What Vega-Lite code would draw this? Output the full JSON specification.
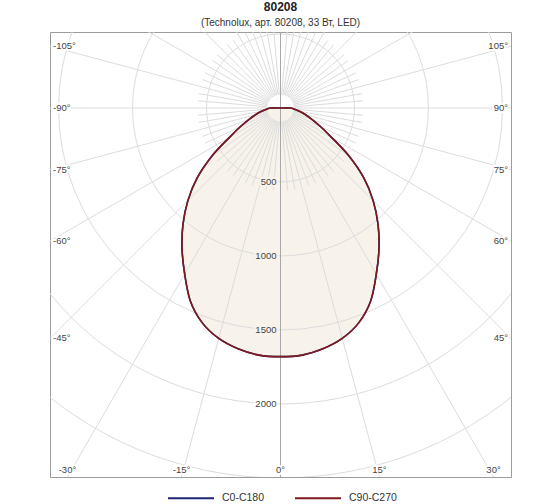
{
  "$schema": "https://vega.github.io/schema/vega-lite/v6.json",
  "width": 461,
  "height": 445,
  "autosize": "none",
  "padding": {"left": 50, "top": 32, "right": 49, "bottom": 27},
  "background": "white",
  "title": {
    "text": "80208",
    "subtitle": "(Technolux, арт. 80208, 33 Вт, LED)",
    "anchor": "middle",
    "font": "Liberation Sans",
    "fontSize": 12,
    "fontWeight": "bold",
    "color": "#222222",
    "subtitleFont": "Liberation Sans",
    "subtitleFontSize": 10,
    "subtitleColor": "#333333",
    "offset": 3,
    "subtitlePadding": 4
  },
  "datasets": {
    "curve": [
      {"plane": "C0-C180", "angle": -90, "cd": 65},
      {"plane": "C0-C180", "angle": -85, "cd": 95},
      {"plane": "C0-C180", "angle": -80, "cd": 130},
      {"plane": "C0-C180", "angle": -75, "cd": 175},
      {"plane": "C0-C180", "angle": -70, "cd": 228},
      {"plane": "C0-C180", "angle": -65, "cd": 300},
      {"plane": "C0-C180", "angle": -60, "cd": 400},
      {"plane": "C0-C180", "angle": -55, "cd": 565},
      {"plane": "C0-C180", "angle": -50, "cd": 735},
      {"plane": "C0-C180", "angle": -45, "cd": 885},
      {"plane": "C0-C180", "angle": -40, "cd": 1025},
      {"plane": "C0-C180", "angle": -35, "cd": 1160},
      {"plane": "C0-C180", "angle": -30, "cd": 1295},
      {"plane": "C0-C180", "angle": -25, "cd": 1440},
      {"plane": "C0-C180", "angle": -20, "cd": 1545},
      {"plane": "C0-C180", "angle": -15, "cd": 1612},
      {"plane": "C0-C180", "angle": -10, "cd": 1652},
      {"plane": "C0-C180", "angle": -5, "cd": 1676},
      {"plane": "C0-C180", "angle": 0, "cd": 1680},
      {"plane": "C0-C180", "angle": 5, "cd": 1676},
      {"plane": "C0-C180", "angle": 10, "cd": 1652},
      {"plane": "C0-C180", "angle": 15, "cd": 1612},
      {"plane": "C0-C180", "angle": 20, "cd": 1545},
      {"plane": "C0-C180", "angle": 25, "cd": 1440},
      {"plane": "C0-C180", "angle": 30, "cd": 1295},
      {"plane": "C0-C180", "angle": 35, "cd": 1160},
      {"plane": "C0-C180", "angle": 40, "cd": 1025},
      {"plane": "C0-C180", "angle": 45, "cd": 885},
      {"plane": "C0-C180", "angle": 50, "cd": 735},
      {"plane": "C0-C180", "angle": 55, "cd": 565},
      {"plane": "C0-C180", "angle": 60, "cd": 400},
      {"plane": "C0-C180", "angle": 65, "cd": 300},
      {"plane": "C0-C180", "angle": 70, "cd": 228},
      {"plane": "C0-C180", "angle": 75, "cd": 175},
      {"plane": "C0-C180", "angle": 80, "cd": 130},
      {"plane": "C0-C180", "angle": 85, "cd": 95},
      {"plane": "C0-C180", "angle": 90, "cd": 65},
      {"plane": "C0-C180", "angle": 180, "cd": 0},
      {"plane": "C90-C270", "angle": -90, "cd": 65},
      {"plane": "C90-C270", "angle": -85, "cd": 95},
      {"plane": "C90-C270", "angle": -80, "cd": 130},
      {"plane": "C90-C270", "angle": -75, "cd": 175},
      {"plane": "C90-C270", "angle": -70, "cd": 228},
      {"plane": "C90-C270", "angle": -65, "cd": 300},
      {"plane": "C90-C270", "angle": -60, "cd": 400},
      {"plane": "C90-C270", "angle": -55, "cd": 565},
      {"plane": "C90-C270", "angle": -50, "cd": 735},
      {"plane": "C90-C270", "angle": -45, "cd": 885},
      {"plane": "C90-C270", "angle": -40, "cd": 1025},
      {"plane": "C90-C270", "angle": -35, "cd": 1160},
      {"plane": "C90-C270", "angle": -30, "cd": 1295},
      {"plane": "C90-C270", "angle": -25, "cd": 1440},
      {"plane": "C90-C270", "angle": -20, "cd": 1545},
      {"plane": "C90-C270", "angle": -15, "cd": 1612},
      {"plane": "C90-C270", "angle": -10, "cd": 1652},
      {"plane": "C90-C270", "angle": -5, "cd": 1676},
      {"plane": "C90-C270", "angle": 0, "cd": 1680},
      {"plane": "C90-C270", "angle": 5, "cd": 1676},
      {"plane": "C90-C270", "angle": 10, "cd": 1652},
      {"plane": "C90-C270", "angle": 15, "cd": 1612},
      {"plane": "C90-C270", "angle": 20, "cd": 1545},
      {"plane": "C90-C270", "angle": 25, "cd": 1440},
      {"plane": "C90-C270", "angle": 30, "cd": 1295},
      {"plane": "C90-C270", "angle": 35, "cd": 1160},
      {"plane": "C90-C270", "angle": 40, "cd": 1025},
      {"plane": "C90-C270", "angle": 45, "cd": 885},
      {"plane": "C90-C270", "angle": 50, "cd": 735},
      {"plane": "C90-C270", "angle": 55, "cd": 565},
      {"plane": "C90-C270", "angle": 60, "cd": 400},
      {"plane": "C90-C270", "angle": 65, "cd": 300},
      {"plane": "C90-C270", "angle": 70, "cd": 228},
      {"plane": "C90-C270", "angle": 75, "cd": 175},
      {"plane": "C90-C270", "angle": 80, "cd": 130},
      {"plane": "C90-C270", "angle": 85, "cd": 95},
      {"plane": "C90-C270", "angle": 90, "cd": 65},
      {"plane": "C90-C270", "angle": 180, "cd": 0}
    ],
    "rings": [
      {"cd": 500}, {"cd": 1000}, {"cd": 1500}, {"cd": 2000}, {"cd": 2500}, {"cd": 3000}
    ],
    "ringLabels": [
      {"cd": 500}, {"cd": 1000}, {"cd": 1500}, {"cd": 2000}
    ],
    "spokes": [
      {"angle": 0, "kind": "axis"}, {"angle": 180, "kind": "axis"},
      {"angle": 15, "kind": "major"}, {"angle": 30, "kind": "major"}, {"angle": 45, "kind": "major"},
      {"angle": 60, "kind": "major"}, {"angle": 75, "kind": "major"}, {"angle": 90, "kind": "major"},
      {"angle": 105, "kind": "major"}, {"angle": 120, "kind": "major"}, {"angle": 135, "kind": "major"},
      {"angle": 150, "kind": "major"}, {"angle": 165, "kind": "major"}, {"angle": 195, "kind": "major"},
      {"angle": 210, "kind": "major"}, {"angle": 225, "kind": "major"}, {"angle": 240, "kind": "major"},
      {"angle": 255, "kind": "major"}, {"angle": 270, "kind": "major"}, {"angle": 285, "kind": "major"},
      {"angle": 300, "kind": "major"}, {"angle": 315, "kind": "major"}, {"angle": 330, "kind": "major"},
      {"angle": 345, "kind": "major"},
      {"angle": 5, "kind": "minor"}, {"angle": 10, "kind": "minor"}, {"angle": 20, "kind": "minor"},
      {"angle": 25, "kind": "minor"}, {"angle": 35, "kind": "minor"}, {"angle": 40, "kind": "minor"},
      {"angle": 50, "kind": "minor"}, {"angle": 55, "kind": "minor"}, {"angle": 65, "kind": "minor"},
      {"angle": 70, "kind": "minor"}, {"angle": 80, "kind": "minor"}, {"angle": 85, "kind": "minor"},
      {"angle": 95, "kind": "minor"}, {"angle": 100, "kind": "minor"}, {"angle": 110, "kind": "minor"},
      {"angle": 115, "kind": "minor"}, {"angle": 125, "kind": "minor"}, {"angle": 130, "kind": "minor"},
      {"angle": 140, "kind": "minor"}, {"angle": 145, "kind": "minor"}, {"angle": 155, "kind": "minor"},
      {"angle": 160, "kind": "minor"}, {"angle": 170, "kind": "minor"}, {"angle": 175, "kind": "minor"},
      {"angle": 185, "kind": "minor"}, {"angle": 190, "kind": "minor"}, {"angle": 200, "kind": "minor"},
      {"angle": 205, "kind": "minor"}, {"angle": 215, "kind": "minor"}, {"angle": 220, "kind": "minor"},
      {"angle": 230, "kind": "minor"}, {"angle": 235, "kind": "minor"}, {"angle": 245, "kind": "minor"},
      {"angle": 250, "kind": "minor"}, {"angle": 260, "kind": "minor"}, {"angle": 265, "kind": "minor"},
      {"angle": 275, "kind": "minor"}, {"angle": 280, "kind": "minor"}, {"angle": 290, "kind": "minor"},
      {"angle": 295, "kind": "minor"}, {"angle": 305, "kind": "minor"}, {"angle": 310, "kind": "minor"},
      {"angle": 320, "kind": "minor"}, {"angle": 325, "kind": "minor"}, {"angle": 335, "kind": "minor"},
      {"angle": 340, "kind": "minor"}, {"angle": 350, "kind": "minor"}, {"angle": 355, "kind": "minor"}
    ],
    "angleLabels": [
      {"angle": -105}, {"angle": -90}, {"angle": -75}, {"angle": -60}, {"angle": -45},
      {"angle": -30}, {"angle": -15}, {"angle": 0}, {"angle": 15}, {"angle": 30},
      {"angle": 45}, {"angle": 60}, {"angle": 75}, {"angle": 90}, {"angle": 105}
    ]
  },
  "encoding": {
    "x": {
      "field": "x",
      "type": "quantitative",
      "scale": {"domain": [-1557.4, 1557.4], "nice": false, "zero": false},
      "axis": null
    },
    "y": {
      "field": "y",
      "type": "quantitative",
      "scale": {"domain": [-2493.2, 513.5], "nice": false, "zero": false},
      "axis": null
    }
  },
  "layer": [
    {
      "data": {"name": "curve"},
      "transform": [
        {"filter": "datum.plane == 'C90-C270'"},
        {"calculate": "datum.angle * PI / 180", "as": "t"},
        {"calculate": "datum.cd * sin(datum.t)", "as": "x"},
        {"calculate": "-datum.cd * cos(datum.t)", "as": "y"}
      ],
      "mark": {"type": "line", "interpolate": "cardinal-closed", "fill": "#f7f3eb", "strokeOpacity": 0},
      "encoding": {"order": {"field": "angle", "type": "quantitative"}}
    },
    {
      "data": {"name": "rings"},
      "transform": [
        {"calculate": "0", "as": "x"},
        {"calculate": "0", "as": "y"}
      ],
      "mark": {"type": "point", "shape": "circle", "filled": false, "stroke": "#dcdcdc", "strokeWidth": 1, "opacity": 1, "clip": true},
      "encoding": {
        "size": {
          "field": "cd",
          "type": "quantitative",
          "scale": {"type": "pow", "exponent": 2, "domain": [0, 3000], "range": [0, 788544]},
          "legend": null
        }
      }
    },
    {
      "data": {"name": "spokes"},
      "transform": [
        {"calculate": "datum.angle * PI / 180", "as": "t"},
        {"calculate": "datum.kind == 'axis' ? 0 : 90", "as": "r0"},
        {"calculate": "datum.kind == 'minor' ? 560 : 3200", "as": "r1"},
        {"calculate": "datum.r0 * sin(datum.t)", "as": "x"},
        {"calculate": "-datum.r0 * cos(datum.t)", "as": "y"},
        {"calculate": "datum.r1 * sin(datum.t)", "as": "x2"},
        {"calculate": "-datum.r1 * cos(datum.t)", "as": "y2"}
      ],
      "mark": {"type": "rule", "strokeWidth": 1, "clip": true},
      "encoding": {
        "x2": {"field": "x2"},
        "y2": {"field": "y2"},
        "stroke": {"condition": {"test": "datum.kind == 'axis'", "value": "#a8a8a8"}, "value": "#dcdcdc"}
      }
    },
    {
      "data": {"name": "curve"},
      "transform": [
        {"calculate": "datum.angle * PI / 180", "as": "t"},
        {"calculate": "datum.cd * sin(datum.t)", "as": "x"},
        {"calculate": "-datum.cd * cos(datum.t)", "as": "y"}
      ],
      "mark": {"type": "line", "interpolate": "cardinal-closed", "strokeWidth": 1.6},
      "encoding": {
        "order": {"field": "angle", "type": "quantitative"},
        "color": {
          "field": "plane",
          "type": "nominal",
          "scale": {"domain": ["C0-C180", "C90-C270"], "range": ["#1c2677", "#7e1a1c"]},
          "legend": {
            "orient": "none",
            "legendX": 117,
            "legendY": 442,
            "direction": "horizontal",
            "title": null,
            "symbolType": "stroke",
            "symbolSize": 2116,
            "symbolStrokeWidth": 2,
            "labelFont": "Liberation Sans",
            "labelFontSize": 10.5,
            "labelColor": "#333333",
            "labelOffset": 7,
            "columnPadding": 26
          }
        }
      }
    },
    {
      "data": {"name": "ringLabels"},
      "transform": [
        {"calculate": "0", "as": "x"},
        {"calculate": "-datum.cd", "as": "y"}
      ],
      "mark": {"type": "text", "align": "right", "baseline": "middle", "dx": -4, "font": "Liberation Sans", "fontSize": 9.5, "strokeWidth": 4},
      "encoding": {
        "text": {"field": "cd", "type": "quantitative", "format": "d"},
        "color": {"value": "#f7f3eb"},
        "stroke": {"condition": {"test": "datum.cd > 1700", "value": "#ffffff"}, "value": "#f7f3eb"}
      }
    },
    {
      "data": {"name": "ringLabels"},
      "transform": [
        {"calculate": "0", "as": "x"},
        {"calculate": "-datum.cd", "as": "y"}
      ],
      "mark": {"type": "text", "align": "right", "baseline": "middle", "dx": -4, "font": "Liberation Sans", "fontSize": 9.5, "color": "#444444"},
      "encoding": {
        "text": {"field": "cd", "type": "quantitative", "format": "d"}
      }
    },
    {
      "data": {"name": "angleLabels"},
      "transform": [
        {"filter": "datum.angle <= -45"},
        {"calculate": "datum.angle * PI / 180", "as": "t"},
        {"calculate": "-1557.4", "as": "x"},
        {"calculate": "-1557.4 * cos(datum.t) / abs(sin(datum.t))", "as": "y"},
        {"calculate": "datum.angle + '°'", "as": "label"}
      ],
      "layer": [
        {
          "mark": {"type": "text", "align": "left", "baseline": "middle", "dx": 3, "font": "Liberation Sans", "fontSize": 9.5, "color": "#ffffff", "stroke": "#ffffff", "strokeWidth": 4},
          "encoding": {"text": {"field": "label"}}
        },
        {
          "mark": {"type": "text", "align": "left", "baseline": "middle", "dx": 3, "font": "Liberation Sans", "fontSize": 9.5, "color": "#444444"},
          "encoding": {"text": {"field": "label"}}
        }
      ]
    },
    {
      "data": {"name": "angleLabels"},
      "transform": [
        {"filter": "datum.angle >= 45"},
        {"calculate": "datum.angle * PI / 180", "as": "t"},
        {"calculate": "1557.4", "as": "x"},
        {"calculate": "-1557.4 * cos(datum.t) / abs(sin(datum.t))", "as": "y"},
        {"calculate": "datum.angle + '°'", "as": "label"}
      ],
      "layer": [
        {
          "mark": {"type": "text", "align": "right", "baseline": "middle", "dx": -3, "font": "Liberation Sans", "fontSize": 9.5, "color": "#ffffff", "stroke": "#ffffff", "strokeWidth": 4},
          "encoding": {"text": {"field": "label"}}
        },
        {
          "mark": {"type": "text", "align": "right", "baseline": "middle", "dx": -3, "font": "Liberation Sans", "fontSize": 9.5, "color": "#444444"},
          "encoding": {"text": {"field": "label"}}
        }
      ]
    },
    {
      "data": {"name": "angleLabels"},
      "transform": [
        {"filter": "abs(datum.angle) < 45"},
        {"calculate": "datum.angle * PI / 180", "as": "t"},
        {"calculate": "2493.2 * tan(datum.t)", "as": "x"},
        {"calculate": "-2493.2", "as": "y"},
        {"calculate": "datum.angle + '°'", "as": "label"}
      ],
      "layer": [
        {
          "mark": {"type": "text", "align": "center", "baseline": "middle", "dy": -7, "font": "Liberation Sans", "fontSize": 9.5, "color": "#ffffff", "stroke": "#ffffff", "strokeWidth": 4},
          "encoding": {"text": {"field": "label"}}
        },
        {
          "mark": {"type": "text", "align": "center", "baseline": "middle", "dy": -7, "font": "Liberation Sans", "fontSize": 9.5, "color": "#444444"},
          "encoding": {"text": {"field": "label"}}
        }
      ]
    }
  ],
  "config": {
    "view": {"stroke": "#9c9c9c", "strokeWidth": 1}
  }
}
